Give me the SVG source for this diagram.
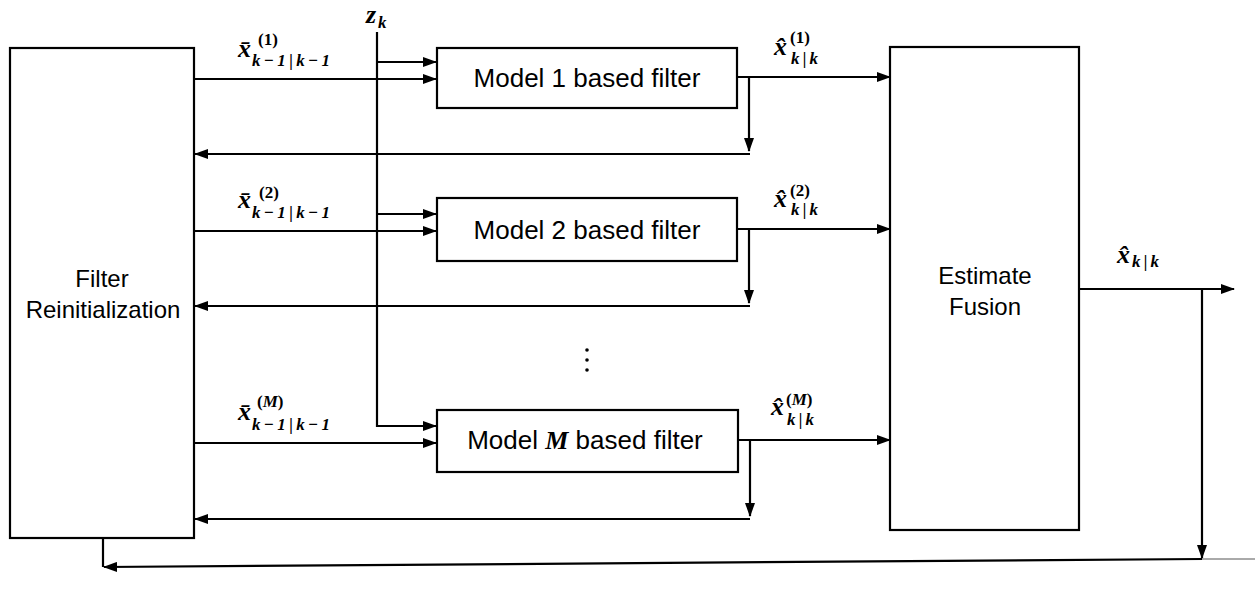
<svg xmlns="http://www.w3.org/2000/svg" width="1255" height="593" viewBox="0 0 1255 593">
<style>
.box{fill:#fff;stroke:#000;stroke-width:2.2}
.ln{fill:none;stroke:#000;stroke-width:2.2}
.lbl{font-family:"Liberation Sans",Arial,sans-serif;font-size:24px;fill:#000;text-anchor:middle}
.mb{font-size:26px}
.m{font-family:"Liberation Serif","Times New Roman",serif;font-style:italic;font-weight:bold;font-size:26px;fill:#000}
.s{font-family:"Liberation Serif","Times New Roman",serif;font-style:italic;font-weight:bold;font-size:17px;fill:#000}
.p{font-family:"Liberation Serif","Times New Roman",serif;font-weight:bold;font-size:17px;fill:#000}
</style>
<defs>
<marker id="ah" markerUnits="userSpaceOnUse" markerWidth="14" markerHeight="10" refX="13" refY="5" orient="auto">
<path d="M0,0 L14,5 L0,10 Z" fill="#000"/>
</marker>
</defs>
<rect width="1255" height="593" fill="#fff"/>
<g id="connectors">
<path class="ln" d="M377,32 V426 H436" marker-end="url(#ah)"/>
<path class="ln" d="M377,62 H436" marker-end="url(#ah)"/>
<path class="ln" d="M377,214 H436" marker-end="url(#ah)"/>
<path class="ln" d="M194,79 H436" marker-end="url(#ah)"/>
<path class="ln" d="M194,231 H436" marker-end="url(#ah)"/>
<path class="ln" d="M194,443 H436" marker-end="url(#ah)"/>
<path class="ln" d="M737,77 H890" marker-end="url(#ah)"/>
<path class="ln" d="M737,229 H890" marker-end="url(#ah)"/>
<path class="ln" d="M738,440 H890" marker-end="url(#ah)"/>
<path class="ln" d="M749,77 V151" marker-end="url(#ah)"/>
<path class="ln" d="M750,154 H195" marker-end="url(#ah)"/>
<path class="ln" d="M749,229 V303" marker-end="url(#ah)"/>
<path class="ln" d="M750,306 H195" marker-end="url(#ah)"/>
<path class="ln" d="M750,440 V516" marker-end="url(#ah)"/>
<path class="ln" d="M750,519 H195" marker-end="url(#ah)"/>
<path class="ln" d="M1079,289 H1234" marker-end="url(#ah)"/>
<path class="ln" d="M1202,289 V558" marker-end="url(#ah)"/>
<path class="ln" d="M1202,559 L104,567" marker-end="url(#ah)"/>
<path class="ln" d="M103,538 V567"/>
<path d="M1202,559 H1255" stroke="#555" stroke-width="1" fill="none"/>
</g>
<g id="reinit">
<rect class="box" x="10" y="48" width="184" height="490"/>
<text class="lbl" x="102" y="287">Filter</text>
<text class="lbl" x="103" y="318">Reinitialization</text>
</g>
<g id="fusion">
<rect class="box" x="890" y="47" width="189" height="483"/>
<text class="lbl" x="985" y="284">Estimate</text>
<text class="lbl" x="985" y="315">Fusion</text>
</g>
<g id="filter1">
<rect class="box" x="437" y="48" width="300" height="60"/>
<text class="lbl mb" x="587" y="87">Model 1 based filter</text>
</g>
<g id="filter2">
<rect class="box" x="437" y="198" width="300" height="63"/>
<text class="lbl mb" x="587" y="239">Model 2 based filter</text>
</g>
<g id="filterM">
<rect class="box" x="437" y="410" width="301" height="62"/>
<text class="lbl mb" x="585" y="449">Model <tspan font-family="Liberation Serif,serif" font-style="italic" font-weight="bold">M</tspan> based filter</text>
</g>
<g id="dots">
<circle cx="587" cy="350" r="1.8"/>
<circle cx="587" cy="360" r="1.8"/>
<circle cx="587" cy="370" r="1.8"/>
</g>
<g id="labels">
<text class="m" x="366" y="23">z</text><text class="s" x="378" y="28">k</text>
<text class="m" x="238" y="57">x̄</text><text class="p" x="258" y="45">(1)</text><text class="s" x="252" y="66" textLength="78" lengthAdjust="spacing">k−1|k−1</text>
<text class="m" x="238" y="208">x̄</text><text class="p" x="259" y="198">(2)</text><text class="s" x="252" y="218" textLength="78" lengthAdjust="spacing">k−1|k−1</text>
<text class="m" x="238" y="420">x̄</text><text class="p" x="257" y="407">(<tspan font-style="italic">M</tspan>)</text><text class="s" x="252" y="430" textLength="78" lengthAdjust="spacing">k−1|k−1</text>
<text class="m" x="774" y="55">x̂</text><text class="p" x="790" y="43">(1)</text><text class="s" x="791" y="64" textLength="27" lengthAdjust="spacing">k|k</text>
<text class="m" x="774" y="207">x̂</text><text class="p" x="790" y="196">(2)</text><text class="s" x="791" y="215" textLength="27" lengthAdjust="spacing">k|k</text>
<text class="m" x="771" y="415">x̂</text><text class="p" x="786" y="405">(<tspan font-style="italic">M</tspan>)</text><text class="s" x="787" y="425" textLength="27" lengthAdjust="spacing">k|k</text>
<text class="m" x="1117" y="263">x̂</text><text class="s" x="1132" y="267" textLength="27" lengthAdjust="spacing">k|k</text>
</g>
</svg>
